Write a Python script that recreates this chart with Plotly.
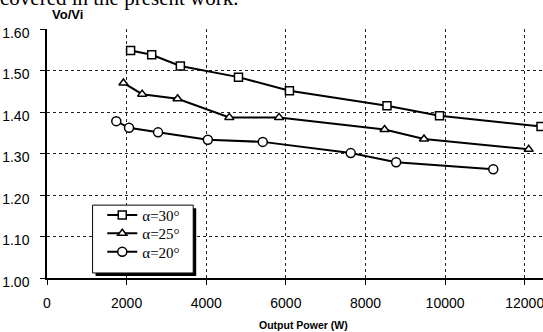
import plotly.graph_objects as go

# Data
x30 = [2100, 2630, 3350, 4810, 6090, 8540, 9860, 12410]
y30 = [1.548, 1.538, 1.511, 1.484, 1.451, 1.415, 1.391, 1.365]
x25 = [1920, 2390, 3280, 4580, 5830, 8480, 9470, 12100]
y25 = [1.470, 1.443, 1.432, 1.387, 1.387, 1.358, 1.335, 1.310]
x20 = [1740, 2060, 2790, 4040, 5420, 7630, 8770, 11210]
y20 = [1.378, 1.362, 1.351, 1.333, 1.328, 1.301, 1.279, 1.262]
names = ["α=30°", "α=25°", "α=20°"]
xticks = [0, 2000, 4000, 6000, 8000, 10000, 12000]
yticks = [1.00, 1.10, 1.20, 1.30, 1.40, 1.50, 1.60]

W, H = 543, 332
L, R, T, B = 46.7, 543, 29.3, 277.7
pw, ph = R - L, B - T

def px2x(p):
    return (p - L) / pw

def px2y(p):
    return (B - p) / ph

fig = go.Figure()
series = [(x30, y30, "square"), (x25, y25, "triangle-up"), (x20, y20, "circle")]
sizes = [8, 8, 9]
legends = ["legend", "legend2", "legend3"]
for (xs, ys, sym), nm, sz, lg in zip(series, names, sizes, legends):
    fig.add_trace(go.Scatter(
        x=xs, y=ys, name=nm, mode="lines+markers", legend=lg,
        line=dict(color="black", width=2),
        marker=dict(symbol=sym, size=sz, color="white",
                    line=dict(color="black", width=1.5)),
    ))

def legend_at(row_y):
    return dict(
        x=px2x(102), y=px2y(row_y), xanchor="left", yanchor="middle",
        bgcolor="rgba(0,0,0,0)", borderwidth=0,
        font=dict(family="Liberation Serif, Times New Roman", size=15, color="black"),
        itemwidth=30,
    )

tickfont = dict(family="Liberation Sans, Arial", size=14, color="black")
fig.update_layout(
    width=W, height=H,
    margin=dict(l=L, r=W - R, t=T, b=H - B, pad=0),
    plot_bgcolor="white", paper_bgcolor="white",
    showlegend=True,
    legend=legend_at(215),
    legend2=legend_at(233.3),
    legend3=legend_at(251.7),
    xaxis=dict(
        range=[0, (R - L) / ((524.7 - 46.7) / 12000)],
        tickvals=xticks, ticktext=[str(v) for v in xticks],
        showgrid=True, gridcolor="#222", griddash="dot", gridwidth=1,
        showline=True, linecolor="black", linewidth=1.5,
        ticks="outside", ticklen=5, tickcolor="black",
        tickfont=tickfont, zeroline=False, automargin=False,
        ticklabeloverflow="allow", ticklabelstandoff=6,
    ),
    yaxis=dict(
        range=[1.0, 1.6],
        tickvals=yticks, ticktext=["%.2f" % v for v in yticks],
        showgrid=True, gridcolor="#222", griddash="dot", gridwidth=1,
        showline=True, linecolor="black", linewidth=1.5,
        ticks="outside", ticklen=5, tickcolor="black",
        tickfont=tickfont, zeroline=False, automargin=False,
        ticklabeloverflow="allow", ticklabelstandoff=8, ticklabelshift=4,
    ),
)

# legend box with drop shadow
fig.add_shape(type="rect", xref="paper", yref="paper", layer="above",
              x0=px2x(95.3), x1=px2x(196), y0=px2y(275.7), y1=px2y(208),
              fillcolor="black", line=dict(width=0))
fig.add_shape(type="rect", xref="paper", yref="paper", layer="above",
              x0=px2x(92.3), x1=px2x(193), y0=px2y(272.7), y1=px2y(205),
              fillcolor="white", line=dict(width=1, color="black"))

fig.add_annotation(text="<b>Vo/Vi</b>", xref="paper", yref="paper",
                   x=px2x(67), y=px2y(14.5), xanchor="center", yanchor="middle", showarrow=False,
                   font=dict(family="Liberation Sans, Arial", size=13, color="black"))
fig.add_annotation(text="<b>Output Power (W)</b>", xref="paper", yref="paper",
                   x=px2x(303), y=px2y(325), xanchor="center", yanchor="middle", showarrow=False,
                   font=dict(family="Liberation Sans, Arial", size=10.5, color="black"))
fig.add_annotation(text="covered in the present work.", xref="paper", yref="paper",
                   x=px2x(-2), y=px2y(-1.5), xanchor="left", yanchor="middle", showarrow=False,
                   font=dict(family="Liberation Serif, Times New Roman", size=21, color="black"))

fig.write_html("out.html", config={"displayModeBar": False},
               post_script="document.body.style.margin='0';document.body.style.padding='0';document.body.style.overflow='hidden';")
